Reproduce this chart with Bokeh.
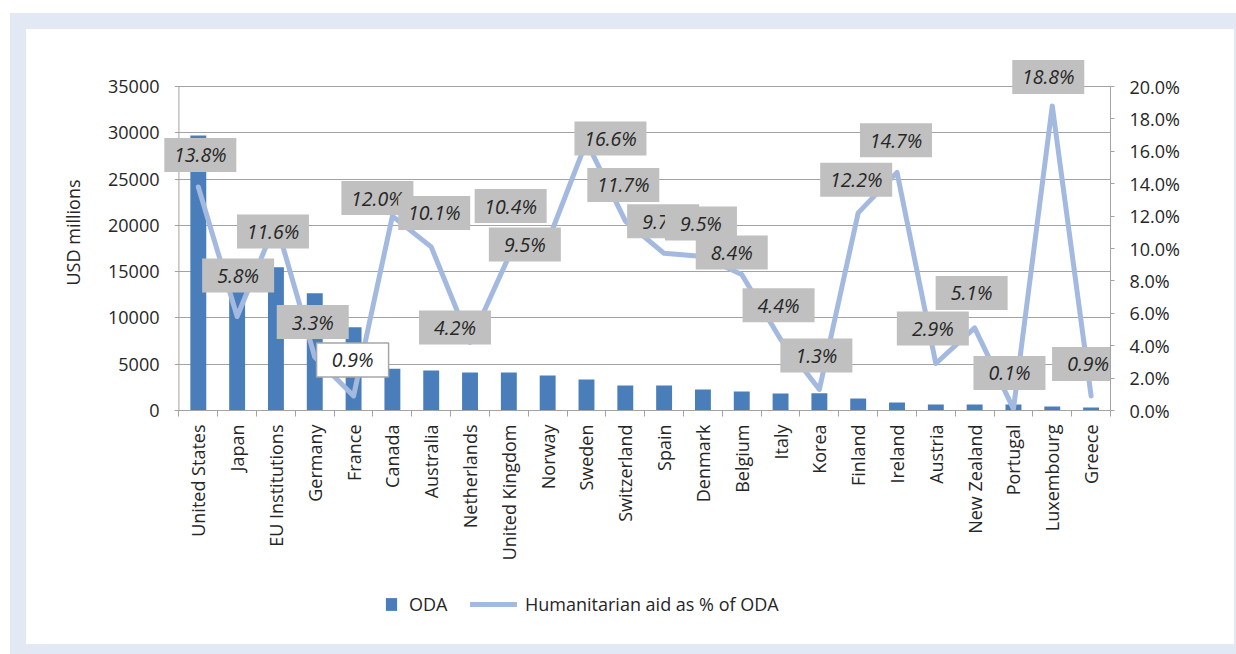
import numpy as np
from bokeh.plotting import figure
from bokeh.models import (Range1d, LinearAxis, FixedTicker, NumeralTickFormatter,
                          Legend, LegendItem)
from bokeh.layouts import column
from bokeh.core.properties import value
from bokeh.embed import file_html
from bokeh.resources import INLINE

# ---------------- data ----------------
countries = ["United States", "Japan", "EU Institutions", "Germany", "France",
             "Canada", "Australia", "Netherlands", "United Kingdom", "Norway",
             "Sweden", "Switzerland", "Spain", "Denmark", "Belgium", "Italy",
             "Korea", "Finland", "Ireland", "Austria", "New Zealand",
             "Portugal", "Luxembourg", "Greece"]
oda = [29700, 15900, 15480, 12670, 9000, 4500, 4320, 4100, 4100, 3780,
       3350, 2700, 2700, 2270, 2050, 1840, 1850, 1300, 860, 650,
       650, 650, 430, 320]
hum_pct = [13.8, 5.8, 11.6, 3.3, 0.9, 12.0, 10.1, 4.2, 9.5, 10.4,
           16.6, 11.7, 9.7, 9.5, 8.4, 4.4, 1.3, 12.2, 14.7, 2.9,
           5.1, 0.1, 18.8, 0.9]
left_ticks = [0, 5000, 10000, 15000, 20000, 25000, 30000, 35000]
right_ticks = [0.0, 0.02, 0.04, 0.06, 0.08, 0.10, 0.12, 0.14, 0.16, 0.18, 0.20]
series_names = ["ODA", "Humanitarian aid as % of ODA"]

# ---------------- style / layout ----------------
# label box offsets from the data point, screen pixels (x right, y down)
lab_dx = [2, 1, -3, -2, -1, -15, 3, -15, 16, -37, 24, -2, -1, -2, -10, -2,
          -3, -2, -1, -3, -3, -4, -4, -3]
lab_dy = [-32, -41, 9, -35, -36, -18, -34, -15, -12, -36, -3, -36, -32, -33,
          -22, -34, -34, -33, -32, -35, -35, -36, -29, -32]
lab_fill = ["#bfc0bf"] * 24
lab_fill[4] = "#ffffff"
lab_border = [None] * 24
lab_border[4] = "#a6a6a6"

FONT = "Open Sans"
TXT = "#262626"
GRID = "#a3a3a3"
BAR = "#4a7ebb"
LINE = "#a3b9df"
N = len(countries)
X_PAD = 0.5                      # room left of the value axis for label boxes
FRAME_W, FRAME_H = 951, 356
PX_35000 = 324.0
L_END = 35000 * FRAME_H / PX_35000
R_END = 0.20 * FRAME_H / PX_35000

xc = [i + 0.5 for i in range(N)]
pct = [v / 100.0 for v in hum_pct]
sx = (N + X_PAD) / FRAME_W
sy = R_END / FRAME_H
TICK = 4 * sx

p = figure(frame_width=FRAME_W, frame_height=FRAME_H,
           x_range=Range1d(-X_PAD, N), y_range=Range1d(0, L_END),
           output_backend="svg", toolbar_location=None,
           min_border_left=133, min_border_right=124,
           min_border_top=25, min_border_bottom=170,
           background_fill_color="white", border_fill_color="white")
p.outline_line_color = None
p.extra_y_ranges = {"pct": Range1d(0, R_END)}

# grid
p.xgrid.grid_line_color = None
p.ygrid.ticker = FixedTicker(ticks=left_ticks[1:])
p.ygrid.grid_line_color = GRID
p.ygrid.grid_line_width = 1

# x axis
xa = p.xaxis[0]
xa.ticker = FixedTicker(ticks=xc, minor_ticks=list(range(N + 1)))
xa.major_label_overrides = {c: name for c, name in zip(xc, countries)}
xa.major_label_orientation = np.pi / 2
xa.bounds = (-TICK, N)
xa.major_tick_line_color = None
xa.major_tick_out = 0
xa.major_tick_in = 0
xa.minor_tick_out = 6
xa.minor_tick_in = 0
xa.minor_tick_line_color = GRID
xa.axis_line_color = GRID
xa.major_label_standoff = 8
xa.major_label_text_font = FONT
xa.major_label_text_font_size = "18px"
xa.major_label_text_color = TXT

# left axis: labels only (its line is drawn at x = 0 below)
ya = p.yaxis[0]
ya.ticker = FixedTicker(ticks=left_ticks)
ya.formatter = NumeralTickFormatter(format="0")
ya.axis_line_color = None
ya.major_tick_line_color = None
ya.major_tick_out = 0
ya.major_tick_in = 0
ya.minor_tick_line_color = None
ya.major_label_standoff = 0
ya.major_label_text_font = FONT
ya.major_label_text_font_size = "18px"
ya.major_label_text_color = TXT
ya.axis_label = "USD millions"
ya.axis_label_text_font = FONT
ya.axis_label_text_font_size = "18px"
ya.axis_label_text_font_style = "normal"
ya.axis_label_text_color = TXT
ya.axis_label_standoff = 20

# right axis
ra = LinearAxis(y_range_name="pct", ticker=FixedTicker(ticks=right_ticks),
                formatter=NumeralTickFormatter(format="0.0%"), bounds=(0, 0.2))
ra.axis_line_color = GRID
ra.major_tick_line_color = GRID
ra.major_tick_out = 4
ra.major_tick_in = 0
ra.minor_tick_line_color = None
ra.major_label_standoff = 15
ra.major_label_text_font = FONT
ra.major_label_text_font_size = "18px"
ra.major_label_text_color = TXT
p.add_layout(ra, "right")

# white mask so grid lines stop at the value axis (leaving short ticks)
p.quad(left=[-X_PAD], right=[-TICK], bottom=[0], top=[L_END],
       fill_color="white", line_color=None)
# value axis line at x = 0
p.segment(x0=[0], y0=[left_ticks[0]], x1=[0], y1=[left_ticks[-1]],
          line_color=GRID, line_width=1)

# bars
p.vbar(x=xc, top=oda, width=0.41, fill_color=BAR, line_color=None)

# line
p.line(x=xc, y=pct, y_range_name="pct", line_color=LINE,
       line_width=5, line_join="round", line_cap="round")

# data labels (drawn one by one so later boxes cover earlier ones)
for i in range(N):
    bx = xc[i] + lab_dx[i] * sx
    by = pct[i] - lab_dy[i] * sy
    p.rect(x=[bx], y=[by], width=72, height=34, width_units="screen",
           height_units="screen", y_range_name="pct",
           fill_color=lab_fill[i], line_color=lab_border[i], line_width=1.5)
    p.text(x=[bx], y=[by], text=["%.1f%%" % hum_pct[i]], y_range_name="pct",
           text_font=value(FONT), text_font_size="19.5px",
           text_font_style="italic", text_color=TXT,
           text_align="center", text_baseline="middle")

# ---------------- legend strip ----------------
lg = figure(width=1208, height=64, output_backend="svg", toolbar_location=None,
            x_axis_type=None, y_axis_type=None,
            min_border_left=133, min_border_right=124,
            min_border_top=0, min_border_bottom=0,
            x_range=Range1d(0, 1), y_range=Range1d(0, 1),
            background_fill_color="white", border_fill_color="white")
lg.outline_line_color = None
lg.grid.visible = False
r_bar = lg.vbar(x=[-5], top=[-5], width=0.1, fill_color=BAR, line_color=None)
r_line = lg.line(x=[-5, -4], y=[-5, -5], line_color=LINE, line_width=5,
                 line_cap="round")

leg_common = dict(orientation="horizontal", padding=0, margin=0, spacing=0,
                  border_line_color=None, background_fill_alpha=0,
                  label_text_font=FONT, label_text_font_size="18px",
                  label_text_color=TXT, label_height=16, glyph_height=16)
leg1 = Legend(items=[LegendItem(label=series_names[0], renderers=[r_bar])],
              location=(225, 28), glyph_width=14, label_standoff=11,
              **leg_common)
leg2 = Legend(items=[LegendItem(label=series_names[1], renderers=[r_line])],
              location=(311, 28), glyph_width=47, label_standoff=8,
              **leg_common)
lg.add_layout(leg1)
lg.add_layout(leg2)

inner = column(p, lg, spacing=0, styles={"background-color": "white"})
layout = column(inner, margin=(13, 0, 0, 10),
                styles={"background-color": "#e3e9f4",
                        "padding": "16px 2px 10px 16px"})

open("out.html", "w").write(file_html(layout, INLINE))
